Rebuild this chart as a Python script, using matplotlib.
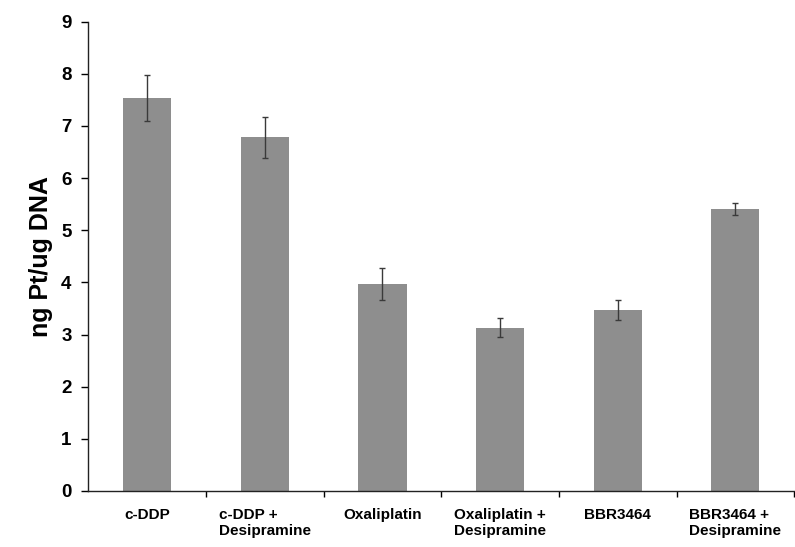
import matplotlib
matplotlib.use('Agg')
import matplotlib.pyplot as plt
import numpy as np

plt.rcParams['font.family'] = ['Liberation Sans', 'DejaVu Sans']

categories = ['c-DDP', 'c-DDP +\nDesipramine', 'Oxaliplatin', 'Oxaliplatin +\nDesipramine',
              'BBR3464', 'BBR3464 +\nDesipramine']
pt_per_dna = [7.53, 6.78, 3.97, 3.13, 3.47, 5.41]
pt_err = [0.44, 0.40, 0.31, 0.18, 0.19, 0.12]

fig = plt.figure(figsize=(7.95, 5.47), dpi=100)
ax = fig.add_axes([0.111, 0.1024, 0.888, 0.858])

x = np.arange(len(categories))
ax.bar(x, pt_per_dna, width=0.41, color='#8e8e8e', zorder=2)
ax.errorbar(x, pt_per_dna, yerr=pt_err, fmt='none', ecolor='#3a3a3a',
            elinewidth=1.0, capsize=2.5, capthick=1.0, zorder=3)

ax.set_xlim(-0.5, len(categories) - 0.5)
ax.set_ylim(0, 9)
ax.set_yticks(range(0, 10))
ax.tick_params(axis='y', labelsize=13.5, length=5, width=1, direction='out', pad=7)
for lbl in ax.get_yticklabels():
    lbl.set_fontweight('bold')

# category names under the bars, separator ticks between them
ax.set_xticks(x)
ax.set_xticklabels(categories, fontsize=11, fontweight='bold', multialignment='left')
ax.tick_params(axis='x', which='major', length=0, pad=12)
ax.set_xticks(np.arange(0.5, len(categories), 1.0), minor=True)
ax.tick_params(axis='x', which='minor', length=4, width=1, direction='out')

ax.set_ylabel('ng Pt/ug DNA', fontsize=18, fontweight='bold', labelpad=6)

for side in ['top', 'right']:
    ax.spines[side].set_visible(False)
for side in ['left', 'bottom']:
    ax.spines[side].set_color('#222222')
    ax.spines[side].set_linewidth(1.0)

fig.savefig('out.png', dpi=100)
